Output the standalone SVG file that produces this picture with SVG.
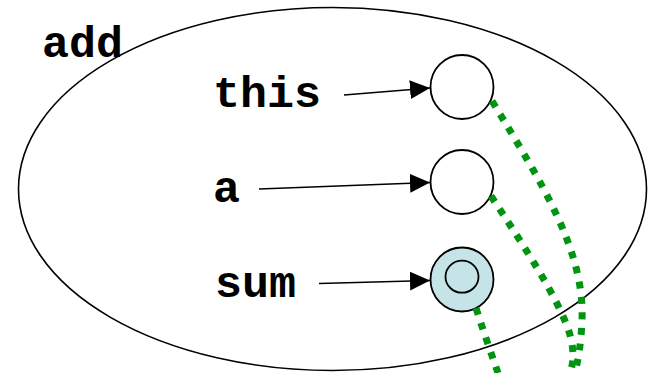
<svg xmlns="http://www.w3.org/2000/svg" width="648" height="373" viewBox="0 0 648 373">
<style>
.lbl{font-family:"Liberation Mono","Courier New",monospace;font-weight:bold;font-size:45px;fill:#000}
.var{fill:#fff;stroke:#000;stroke-width:1.8}
.arr{stroke:#000;stroke-width:1.6;fill:none;marker-end:url(#ah)}
.ref{stroke:#009410;stroke-width:7;fill:none;stroke-dasharray:7 8.5}
</style>
<defs>
<marker id="ah" viewBox="0 0 20 19" refX="20" refY="9.5" markerWidth="20" markerHeight="19" markerUnits="userSpaceOnUse" orient="auto">
<path d="M0,0 L20,9.5 L0,19 Z" fill="#000"/>
</marker>
</defs>
<rect width="648" height="373" fill="#fff"/>
<g id="frame">
<ellipse cx="332.5" cy="189" rx="314" ry="181.5" fill="none" stroke="#000" stroke-width="1.6"/>
<text class="lbl" x="42" y="57">add</text>
</g>
<g id="node-this">
<text class="lbl" x="213" y="107">this</text>
<ellipse class="var" cx="462" cy="87" rx="31.5" ry="32"/>
</g>
<g id="node-a">
<text class="lbl" x="213" y="202">a</text>
<ellipse class="var" cx="462" cy="182" rx="31.5" ry="32"/>
</g>
<g id="node-sum">
<text class="lbl" x="215" y="297">sum</text>
<ellipse class="var" cx="462" cy="279.5" rx="31.5" ry="32" style="fill:#c5e4e8"/>
<ellipse cx="462" cy="276.7" rx="16.5" ry="16" fill="none" stroke="#000" stroke-width="1.8"/>
</g>
<g id="connectors">
<line class="arr" x1="344" y1="95" x2="430" y2="88"/>
<line class="arr" x1="259" y1="189" x2="430" y2="182.5"/>
<line class="arr" x1="319" y1="283.5" x2="430" y2="280.5"/>
<path class="ref" d="M492,101 C540,180 585,250 582,320 C581,345 578,360 575,373"/>
<path class="ref" d="M491,196 C520,240 560,300 570,335 C574,350 574,362 570,373"/>
<path class="ref" d="M476,308 C483,330 490,350 498,373"/>
</g>
</svg>
